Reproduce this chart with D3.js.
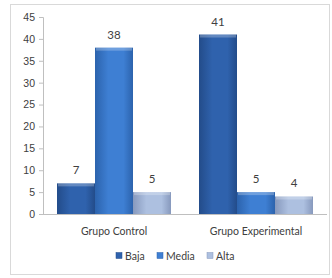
<!DOCTYPE html>
<html>
<head>
<meta charset="utf-8">
<script src="https://cdn.jsdelivr.net/npm/d3@7"></script>
<style>
  body { margin: 0; background: #fff; }
  svg { font-family: Lato, "Open Sans", sans-serif; }
</style>
</head>
<body>
<div id="chart"></div>
<script>
// data
const groups = ['Grupo Control', 'Grupo Experimental'];
const series = ['Baja', 'Media', 'Alta'];
const baja = [7, 41];
const media = [38, 5];
const alta = [5, 4];
const yTicks = [0, 5, 10, 15, 20, 25, 30, 35, 40, 45];

const values = [baja, media, alta];
const colors = ['#2f62ad', '#3e7fd3', '#adc0e0'];
const darks = ['#234c8a', '#2c63ad', '#8799bd'];

const width = 332, height = 278;
const svg = d3.select('#chart').append('svg')
  .attr('width', width)
  .attr('height', height);

// outer frame of the chart
svg.append('rect')
  .attr('x', 10.5).attr('y', 4.5)
  .attr('width', 319).attr('height', 270)
  .attr('fill', '#fff')
  .attr('stroke', '#d9d9d9');

const defs = svg.append('defs');
series.forEach((s, i) => {
  const g = defs.append('linearGradient')
    .attr('id', 'grad' + i)
    .attr('x1', 0).attr('x2', 1).attr('y1', 0).attr('y2', 0);
  g.append('stop').attr('offset', '0%').attr('stop-color', darks[i]);
  g.append('stop').attr('offset', '35%').attr('stop-color', colors[i]);
  g.append('stop').attr('offset', '75%').attr('stop-color', colors[i]);
  g.append('stop').attr('offset', '100%').attr('stop-color', darks[i]);
});

const x0 = d3.scaleBand().domain(groups).range([43, 327]).paddingInner(0).paddingOuter(0);
const x1 = d3.scaleBand().domain(series).range([14, x0.bandwidth() - 14]);
const y = d3.scaleLinear().domain([0, 45]).range([214, 17]);

// y axis
const yAxis = svg.append('g')
  .attr('transform', 'translate(43,0)')
  .call(d3.axisLeft(y).tickValues(yTicks).tickSize(4).tickPadding(4));
yAxis.select('.domain').attr('stroke', '#bfbfbf');
yAxis.selectAll('line').attr('stroke', '#bfbfbf');
yAxis.selectAll('text').attr('fill', '#404040').style('font-size', '10.5px');

// bottom axis line
svg.append('line')
  .attr('x1', 43).attr('x2', 327)
  .attr('y1', y(0) + 0.5).attr('y2', y(0) + 0.5)
  .attr('stroke', '#bfbfbf');

// bars
groups.forEach((grp, gi) => {
  const g = svg.append('g').attr('transform', `translate(${x0(grp)},0)`);
  series.forEach((s, si) => {
    const v = values[si][gi];
    const bx = x1(s), bw = x1.bandwidth();
    g.append('rect')
      .attr('x', bx).attr('y', y(v))
      .attr('width', bw).attr('height', y(0) - y(v))
      .attr('fill', `url(#grad${si})`);
    // little bevel on top
    g.append('rect')
      .attr('x', bx + 1).attr('y', y(v))
      .attr('width', bw - 2).attr('height', 3)
      .attr('fill', '#fff').attr('opacity', 0.25);
    g.append('text')
      .attr('x', bx + bw / 2).attr('y', y(v) - 9)
      .attr('text-anchor', 'middle')
      .attr('fill', '#404040')
      .style('font-size', '11.5px')
      .text(v);
  });
  g.append('text')
    .attr('x', x0.bandwidth() / 2).attr('y', 235)
    .attr('text-anchor', 'middle')
    .attr('fill', '#404040')
    .style('font-size', '10.5px')
    .text(grp);
});

// legend
const legendX = [116, 157, 207];
const legend = svg.append('g');
series.forEach((s, i) => {
  legend.append('rect')
    .attr('x', legendX[i]).attr('y', 252.5)
    .attr('width', 6).attr('height', 6)
    .attr('fill', colors[i]).attr('stroke', darks[i]).attr('stroke-width', 0.5);
  legend.append('text')
    .attr('x', legendX[i] + 9).attr('y', 259.5)
    .attr('fill', '#404040')
    .style('font-size', '10.5px')
    .text(s);
});
</script>
</body>
</html>
